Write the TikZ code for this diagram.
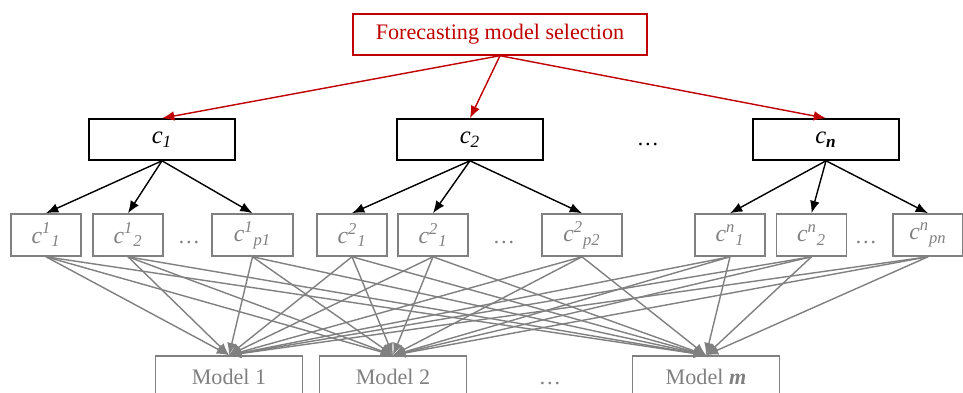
\documentclass[tikz,border=0pt]{standalone}
\usepackage{fontspec}
\setmainfont{Liberation Serif}
\usetikzlibrary{arrows.meta}
\definecolor{selred}{RGB}{192,0,0}
\definecolor{critgray}{RGB}{128,128,128}
\tikzset{
	bigbox/.style={draw, line width=0.9pt, minimum width=2.92cm, minimum height=0.82cm, inner sep=0pt, font=\fontsize{14}{16}\selectfont},
	subbox/.style={draw=critgray, text=critgray, line width=0.9pt, minimum width=1.4cm, minimum height=0.84cm, inner sep=0pt, font=\fontsize{13.5}{16}\selectfont},
	modelbox/.style={draw=critgray, text=critgray, line width=0.9pt, minimum width=2.94cm, minimum height=0.82cm, inner sep=0pt},
	arr/.style={-{Latex[length=7pt,width=5.5pt]}, line width=0.8pt}
}
\begin{document}
\begin{tikzpicture}[x=0.02cm, y=-0.02cm, font=\fontsize{12.6}{15}\selectfont]
	\useasboundingbox (0,0) rectangle (963,392);
	\node[draw=selred, text=selred, line width=0.8pt, minimum width=5.88cm, minimum height=0.82cm] (sel) at (500,34.5) {Forecasting model selection};
	\node[bigbox] (c1) at (162,139.5) {\textit{c}\textsubscript{\textit{1}}};
	\node[bigbox] (c2) at (470,139.5) {\textit{c}\textsubscript{\textit{2}}};
	\node[bigbox] (cn) at (826,139.5) {\textit{c}\textsubscript{\textbf{\textit{n}}}};
	\node (cdots) at (648,145) {\dots};
	\node[subbox] (c11) at (46,235) {\textit{c}\textsuperscript{\textit{1}}\textsubscript{\textit{1}}};
	\node[subbox] (c12) at (128,235) {\textit{c}\textsuperscript{\textit{1}}\textsubscript{\textit{2}}};
	\node[subbox, minimum width=1.62cm] (c1p) at (252.5,235) {\textit{c}\textsuperscript{\textit{1}}\textsubscript{\textit{p1}}};
	\node[subbox] (c21) at (352,235) {\textit{c}\textsuperscript{\textit{2}}\textsubscript{\textit{1}}};
	\node[subbox] (c22) at (433,235) {\textit{c}\textsuperscript{\textit{2}}\textsubscript{\textit{1}}};
	\node[subbox, minimum width=1.6cm] (c2p) at (582,235) {\textit{c}\textsuperscript{\textit{2}}\textsubscript{\textit{p2}}};
	\node[subbox] (cn1) at (730,235) {\textit{c}\textsuperscript{\textit{n}}\textsubscript{\textit{1}}};
	\node[subbox] (cn2) at (811.5,235) {\textit{c}\textsuperscript{\textit{n}}\textsubscript{\textit{2}}};
	\node[subbox] (cnp) at (928,235) {\textit{c}\textsuperscript{\textit{n}}\textsubscript{\textit{pn}}};
	\node[text=critgray] (sd1) at (189,243) {\dots};
	\node[text=critgray] (sd2) at (504,243) {\dots};
	\node[text=critgray] (sd3) at (866,243) {\dots};
	\node[modelbox] (m1) at (229,376.5) {Model 1};
	\node[modelbox] (m2) at (393,376.5) {Model 2};
	\node[modelbox] (mm) at (706,376.5) {Model \textbf{\textit{m}}};
	\node[text=critgray] (md) at (550,383) {\dots};
	\foreach \c in {c1, c2, cn}
		\draw[arr, selred] (sel.south) -- (\c.north);
	\foreach \p/\s in {c1/c11, c1/c12, c1/c1p, c2/c21, c2/c22, c2/c2p, cn/cn1, cn/cn2, cn/cnp}
		\draw[arr] (\p.south) -- (\s.north);
	\foreach \s in {c11, c12, c1p, c21, c22, c2p, cn1, cn2, cnp}
		\foreach \m in {m1, m2, mm}
			\draw[arr, critgray] (\s.south) -- (\m.north);
\end{tikzpicture}
\end{document}
